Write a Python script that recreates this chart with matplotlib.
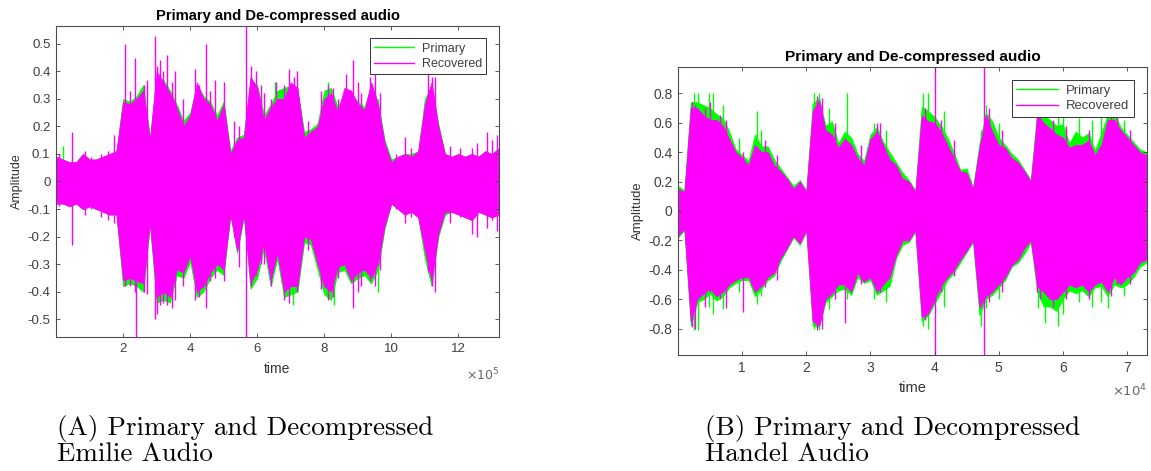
import matplotlib
matplotlib.use("Agg")
import matplotlib.pyplot as plt
from matplotlib.lines import Line2D

plt.rcParams["font.family"] = ["Liberation Sans", "DejaVu Sans"]
plt.rcParams["axes.unicode_minus"] = False

GREEN = "#00ff00"
MAGENTA = "#ff00ff"
DARK = "#404040"

# ---- Emilie audio (time in units of 1e5 samples), envelopes
time_a = [0.0, 0.2, 0.4, 0.6, 0.8, 1.0, 1.2, 1.4, 1.6, 1.8,
          2.0, 2.2, 2.4, 2.6, 2.8, 3.0, 3.2, 3.4, 3.6, 3.8,
          4.0, 4.2, 4.4, 4.6, 4.8, 5.0, 5.2, 5.4, 5.6, 5.8,
          6.0, 6.2, 6.4, 6.6, 6.8, 7.0, 7.2, 7.4, 7.6, 7.8,
          8.0, 8.2, 8.4, 8.6, 8.8, 9.0, 9.2, 9.4, 9.6, 9.8,
          10.0, 10.2, 10.4, 10.6, 10.8, 11.0, 11.2, 11.4, 11.6, 11.8,
          12.0, 12.2, 12.4, 12.6, 12.8, 13.0, 13.2]
prim_a_top = [.09, .08, .07, .07, .10, .08, .08, .09, .10, .11,
              .30, .29, .31, .35, .16, .38, .37, .33, .28, .22,
              .25, .35, .31, .29, .24, .29, .11, .16, .17, .37,
              .35, .24, .28, .33, .34, .35, .33, .18, .19, .21,
              .33, .34, .27, .32, .32, .29, .27, .35, .29, .15,
              .08, .09, .10, .10, .11, .30, .35, .21, .10, .09,
              .10, .09, .10, .09, .11, .10, .12]
prim_a_bot = [-.08, -.08, -.09, -.08, -.10, -.09, -.10, -.11, -.12, -.12,
              -.38, -.37, -.38, -.40, -.16, -.44, -.43, -.44, -.34, -.35,
              -.29, -.42, -.40, -.35, -.32, -.34, -.12, -.26, -.13, -.39,
              -.35, -.24, -.38, -.28, -.42, -.41, -.40, -.22, -.23, -.32,
              -.41, -.43, -.33, -.32, -.37, -.35, -.34, -.37, -.32, -.17,
              -.08, -.10, -.12, -.11, -.13, -.28, -.38, -.20, -.12, -.11,
              -.12, -.13, -.14, -.11, -.12, -.13, -.12]
rec_a_top = [.09, .08, .07, .07, .10, .08, .08, .09, .10, .11,
             .29, .28, .30, .33, .15, .40, .36, .32, .27, .20,
             .24, .36, .30, .28, .22, .28, .10, .15, .16, .38,
             .34, .22, .27, .30, .30, .36, .34, .16, .18, .20,
             .30, .32, .25, .34, .33, .28, .26, .36, .28, .14,
             .07, .09, .10, .09, .11, .28, .36, .20, .10, .09,
             .10, .09, .10, .09, .11, .10, .12]
rec_a_bot = [-.08, -.08, -.09, -.08, -.10, -.09, -.10, -.11, -.12, -.12,
             -.36, -.35, -.36, -.37, -.15, -.42, -.40, -.42, -.32, -.33,
             -.27, -.40, -.38, -.33, -.30, -.32, -.12, -.25, -.12, -.37,
             -.32, -.22, -.36, -.26, -.40, -.38, -.38, -.20, -.21, -.30,
             -.38, -.40, -.31, -.30, -.36, -.33, -.32, -.35, -.30, -.16,
             -.08, -.10, -.12, -.11, -.13, -.25, -.36, -.19, -.11, -.11,
             -.12, -.13, -.14, -.11, -.12, -.13, -.12]
# isolated peaks of the recovered signal
spike_a_x = [0.10, 0.49, 0.85, 1.05, 1.35, 1.55, 1.72, 1.85, 2.07, 2.20,
             2.35, 2.38, 2.62, 2.72, 2.95, 3.00, 3.10, 3.20, 3.32, 3.45,
             3.55, 3.78, 4.15, 4.25, 4.48, 4.60, 4.75, 5.02, 5.30, 5.45,
             5.67, 5.80, 5.95, 6.10, 6.20, 6.40, 6.55, 6.80, 6.95, 7.10,
             7.20, 7.50, 7.90, 8.10, 8.25, 8.40, 8.65, 8.85, 9.00, 9.10,
             9.35, 9.50, 9.65, 10.15, 10.40, 10.60, 11.08, 11.20, 11.30, 11.75,
             12.05, 12.40, 12.55, 12.85, 13.00, 13.15]
spike_a_top = [0.10, 0.18, 0.11, 0.09, 0.10, 0.11, 0.17, 0.12, 0.50, 0.33,
               0.45, 0.30, 0.35, 0.37, 0.53, 0.42, 0.44, 0.40, 0.46, 0.36,
               0.40, 0.30, 0.41, 0.35, 0.50, 0.33, 0.37, 0.36, 0.22, 0.20,
               0.60, 0.42, 0.40, 0.35, 0.32, 0.30, 0.36, 0.35, 0.41, 0.38,
               0.40, 0.22, 0.33, 0.35, 0.34, 0.30, 0.39, 0.44, 0.36, 0.32,
               0.38, 0.41, 0.32, 0.10, 0.16, 0.12, 0.40, 0.38, 0.38, 0.13,
               0.12, 0.12, 0.14, 0.18, 0.15, 0.17]
spike_a_bot = [-0.09, -0.23, -0.12, -0.10, -0.13, -0.14, -0.15, -0.16, -0.38, -0.38,
               -0.40, -0.60, -0.40, -0.41, -0.50, -0.48, -0.45, -0.44, -0.45, -0.46,
               -0.43, -0.38, -0.43, -0.42, -0.46, -0.36, -0.35, -0.36, -0.20, -0.31,
               -0.60, -0.38, -0.34, -0.30, -0.30, -0.38, -0.22, -0.43, -0.44, -0.36,
               -0.40, -0.25, -0.39, -0.43, -0.42, -0.35, -0.30, -0.46, -0.40, -0.38,
               -0.36, -0.38, -0.32, -0.10, -0.15, -0.13, -0.33, -0.38, -0.40, -0.15,
               -0.13, -0.19, -0.20, -0.17, -0.14, -0.18]
pspike_a_x = [0.20, 6.52, 7.07, 8.12, 8.30, 9.60]
pspike_a_top = [0.13, 0.36, 0.30, 0.36, 0.25, 0.30]
pspike_a_bot = [-0.08, -0.30, -0.45, -0.35, -0.45, -0.40]

# ---- Handel audio (time in units of 1e4 samples)
time_b = [0.0, 0.1, 0.2, 0.3, 0.4, 0.5, 0.6, 0.7, 0.8, 0.9,
          1.0, 1.1, 1.2, 1.3, 1.4, 1.5, 1.6, 1.7, 1.8, 1.9,
          2.0, 2.1, 2.2, 2.3, 2.4, 2.5, 2.6, 2.7, 2.8, 2.9,
          3.0, 3.1, 3.2, 3.3, 3.4, 3.5, 3.6, 3.7, 3.8, 3.9,
          4.0, 4.1, 4.2, 4.3, 4.4, 4.5, 4.6, 4.7, 4.8, 4.9,
          5.0, 5.1, 5.2, 5.3, 5.4, 5.5, 5.6, 5.7, 5.8, 5.9,
          6.0, 6.1, 6.2, 6.3, 6.4, 6.5, 6.6, 6.7, 6.8, 6.9,
          7.0, 7.1, 7.2, 7.3]
prim_b_top = [.17, .14, .74, .74, .72, .70, .66, .63, .54, .42,
              .38, .34, .52, .44, .44, .35, .29, .23, .17, .21,
              .14, .73, .77, .58, .61, .46, .54, .50, .39, .34,
              .52, .57, .47, .40, .33, .26, .21, .14, .71, .68,
              .64, .58, .50, .40, .28, .29, .16, .46, .67, .61,
              .50, .45, .39, .35, .28, .21, .68, .65, .62, .58,
              .59, .46, .54, .50, .53, .41, .53, .66, .67, .57,
              .52, .47, .42, .40]
prim_b_bot = [-.18, -.13, -.78, -.62, -.60, -.56, -.61, -.58, -.52, -.49,
              -.47, -.47, -.58, -.53, -.47, -.44, -.34, -.26, -.18, -.23,
              -.14, -.78, -.79, -.62, -.58, -.54, -.53, -.57, -.45, -.49,
              -.47, -.57, -.54, -.51, -.32, -.23, -.21, -.14, -.75, -.71,
              -.63, -.55, -.47, -.42, -.35, -.28, -.21, -.71, -.60, -.57,
              -.52, -.47, -.38, -.35, -.29, -.21, -.55, -.65, -.65, -.68,
              -.60, -.54, -.56, -.54, -.58, -.52, -.51, -.58, -.50, -.52,
              -.50, -.45, -.38, -.35]
rec_b_top = [.15, .13, .70, .70, .65, .62, .62, .58, .49, .40,
             .36, .31, .45, .40, .40, .31, .27, .22, .15, .20,
             .13, .68, .75, .55, .52, .43, .49, .45, .36, .31,
             .49, .54, .45, .35, .31, .22, .20, .13, .65, .61,
             .60, .54, .45, .36, .27, .26, .15, .43, .65, .54,
             .45, .43, .36, .33, .27, .20, .65, .60, .56, .52,
             .50, .43, .45, .45, .48, .38, .45, .62, .62, .55,
             .50, .45, .40, .38]
rec_b_bot = [-.17, -.12, -.75, -.60, -.56, -.53, -.58, -.55, -.50, -.47,
             -.45, -.45, -.55, -.51, -.45, -.42, -.32, -.25, -.17, -.22,
             -.13, -.75, -.78, -.60, -.56, -.50, -.50, -.55, -.42, -.48,
             -.45, -.55, -.50, -.45, -.30, -.20, -.20, -.13, -.72, -.70,
             -.60, -.51, -.45, -.40, -.33, -.27, -.20, -.66, -.58, -.55,
             -.50, -.45, -.37, -.33, -.25, -.20, -.51, -.55, -.60, -.60,
             -.55, -.50, -.52, -.50, -.55, -.50, -.48, -.55, -.45, -.50,
             -.45, -.42, -.35, -.33]
spike_b_x = [0.22, 0.26, 0.42, 0.50, 0.65, 0.75, 1.02, 1.35, 1.55, 2.16,
             2.25, 2.45, 2.60, 2.85, 3.10, 3.15, 3.85, 4.01, 4.10, 4.30,
             4.77, 4.85, 5.05, 5.60, 5.65, 5.85, 6.05, 6.40, 6.75, 6.85,
             7.05]
spike_b_top = [0.74, 0.72, 0.70, 0.74, 0.65, 0.62, 0.40, 0.48, 0.38, 0.78,
               0.77, 0.60, 0.50, 0.45, 0.60, 0.60, 0.70, 1.00, 0.62, 0.48,
               1.00, 0.70, 0.55, 0.68, 0.70, 0.62, 0.58, 0.55, 0.68, 0.70,
               0.55]
spike_b_bot = [-0.79, -0.80, -0.65, -0.55, -0.60, -0.66, -0.69, -0.52, -0.47, -0.81,
               -0.80, -0.60, -0.76, -0.50, -0.55, -0.55, -0.74, -1.00, -0.55, -0.44,
               -1.00, -0.62, -0.55, -0.55, -0.60, -0.65, -0.60, -0.60, -0.58, -0.50,
               -0.50]
pspike_b_x = [0.25, 0.32, 0.48, 0.55, 0.70, 0.95, 1.24, 1.30, 2.12, 2.20,
              2.35, 2.63, 3.05, 3.25, 3.82, 3.90, 4.15, 4.72, 4.80, 5.00,
              5.62, 5.72, 5.92, 6.00, 6.25, 6.45, 6.60, 6.70, 6.95]
pspike_b_top = [0.80, 0.80, 0.80, 0.80, 0.72, 0.50, 0.68, 0.55, 0.80, 0.80,
                0.70, 0.80, 0.60, 0.55, 0.80, 0.80, 0.68, 0.55, 0.72, 0.60,
                0.76, 0.72, 0.70, 0.72, 0.63, 0.62, 0.68, 0.72, 0.62]
pspike_b_bot = [-0.81, -0.81, -0.65, -0.70, -0.67, -0.55, -0.63, -0.58, -0.80, -0.81,
                -0.67, -0.60, -0.60, -0.62, -0.78, -0.80, -0.65, -0.78, -0.66, -0.60,
                -0.66, -0.76, -0.78, -0.70, -0.62, -0.65, -0.62, -0.66, -0.58]

a_xticks = [2, 4, 6, 8, 10, 12]
a_yticks = [-0.5, -0.4, -0.3, -0.2, -0.1, 0, 0.1, 0.2, 0.3, 0.4, 0.5]
b_xticks = [1, 2, 3, 4, 5, 6, 7]
b_yticks = [-0.8, -0.6, -0.4, -0.2, 0, 0.2, 0.4, 0.6, 0.8]


def draw_wave(ax, t, p_top, p_bot, r_top, r_bot, ps, rs):
    # primary first, recovered painted over it
    ax.fill_between(t, p_bot, p_top, color=GREEN, lw=0.6, zorder=1.0)
    ax.vlines(ps[0], ps[2], ps[1], color=GREEN, lw=1.0, zorder=1.1)
    ax.fill_between(t, r_bot, r_top, color=MAGENTA, lw=0.6, zorder=1.2)
    ax.vlines(rs[0], rs[2], rs[1], color=MAGENTA, lw=1.0, zorder=1.3)


def style_axes(ax, xlim, ylim, xt, yt, power, k):
    ax.set_xlim(*xlim)
    ax.set_ylim(*ylim)
    ax.set_xticks(xt)
    ax.set_xticklabels([f"{v:g}" for v in xt])
    ax.set_yticks(yt)
    ax.set_yticklabels([f"{v:g}" for v in yt])
    ax.tick_params(direction="in", length=3, width=0.6, colors=DARK,
                   labelsize=9.5 * k, top=True, right=True, pad=4)
    for s in ax.spines.values():
        s.set_color("#4d4d4d")
        s.set_linewidth(0.8)
    ax.set_title("Primary and De-compressed audio", fontsize=10.6 * k,
                 fontweight="bold", pad=4)
    ax.set_xlabel("time", fontsize=10 * k, color="#333333", labelpad=5)
    ax.set_ylabel("Amplitude", fontsize=9 * k, color="#333333", labelpad=3)
    ax.text(1.0, -0.095, r"$\times10^{%d}$" % power, transform=ax.transAxes,
            ha="right", va="top", fontsize=9 * k, color="#666666")
    handles = [Line2D([], [], color=GREEN, lw=1), Line2D([], [], color=MAGENTA, lw=1)]
    leg = ax.legend(handles, ["Primary", "Recovered"], loc="upper right",
                    fontsize=9 * k, fancybox=False, framealpha=1,
                    edgecolor="#333333", borderpad=0.35, labelspacing=0.25,
                    handlelength=3.2, handletextpad=0.6, borderaxespad=1.0)
    leg.set_zorder(5)
    leg.get_frame().set_linewidth(0.7)
    for txt in leg.get_texts():
        txt.set_color(DARK)


fig = plt.figure(figsize=(11.51, 4.71), dpi=100)

ax1 = fig.add_axes([0.0487, 0.2845, 0.3848, 0.6603])
draw_wave(ax1, time_a, prim_a_top, prim_a_bot, rec_a_top, rec_a_bot,
          (pspike_a_x, pspike_a_top, pspike_a_bot),
          (spike_a_x, spike_a_top, spike_a_bot))
style_axes(ax1, (0, 13.21), (-0.565, 0.565), a_xticks, a_yticks, 5, 1.0)

ax2 = fig.add_axes([0.589, 0.2463, 0.4075, 0.6115])
draw_wave(ax2, time_b, prim_b_top, prim_b_bot, rec_b_top, rec_b_bot,
          (pspike_b_x, pspike_b_top, pspike_b_bot),
          (spike_b_x, spike_b_top, spike_b_bot))
style_axes(ax2, (0, 7.311), (-0.98, 0.98), b_xticks, b_yticks, 4, 1.05)

cap_kw = dict(fontsize=19.5, family="cmr10", va="baseline", ha="left")
fig.text(57 / 1151, 1 - 435 / 471, "(A) Primary and Decompressed", **cap_kw)
fig.text(57 / 1151, 1 - 461 / 471, "Emilie Audio", **cap_kw)
fig.text(705 / 1151, 1 - 435 / 471, "(B) Primary and Decompressed", **cap_kw)
fig.text(705 / 1151, 1 - 461 / 471, "Handel Audio", **cap_kw)

fig.savefig("out.png", dpi=100)
